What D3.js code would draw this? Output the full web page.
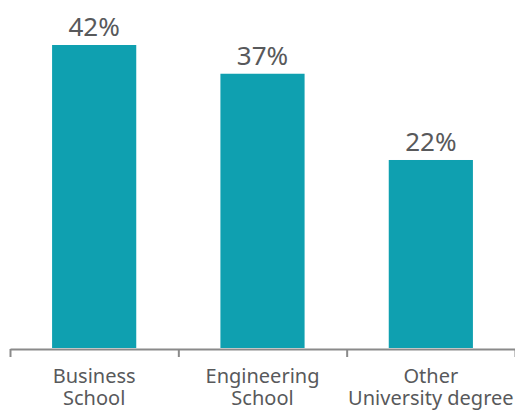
<!DOCTYPE html>
<html>
<head>
<meta charset="utf-8">
<script src="https://cdn.jsdelivr.net/npm/d3@7"></script>
<style>
  body { margin: 0; background: #fff; }
  text { font-family: "Noto Sans", sans-serif; fill: #58595b; }
</style>
</head>
<body>
<script>
// categories and values
var categories = [["Business", "School"], ["Engineering", "School"], ["Other", "University degree"]];
var values = [42, 37, 22];
var valueLabels = ["42%", "37%", "22%"];

var w = 515;
var h = 412;

var svg = d3.select("body").append("svg").attr("width", w).attr("height", h);

var x = d3.scaleBand()
  .domain(d3.range(values.length))
  .range([10, 515])
  .paddingInner(0.5)
  .paddingOuter(0.25);

// baseline sits below zero so bar heights follow the original drawing
var y = d3.scaleLinear().domain([-10.7, 42]).range([348, 45]);

svg.selectAll(".bar")
  .data(values)
  .enter()
  .append("rect")
  .attr("class", "bar")
  .attr("x", function (d, i) { return x(i); })
  .attr("y", function (d) { return y(d); })
  .attr("width", x.bandwidth())
  .attr("height", function (d) { return y(-10.7) - y(d); })
  .style("fill", "#0fa0b0");

svg.selectAll(".val")
  .data(values)
  .enter()
  .append("text")
  .attr("class", "val")
  .attr("x", function (d, i) { return x(i) + x.bandwidth() / 2; })
  .attr("y", function (d) { return y(d) - 9; })
  .attr("text-anchor", "middle")
  .style("font-size", "26px")
  .text(function (d, i) { return valueLabels[i]; });

// axis with ticks on band edges
var edges = d3.scaleLinear().domain([0, values.length]).range([10, 515]);
var axis = svg.append("g")
  .attr("transform", "translate(0,349)")
  .call(d3.axisBottom(edges).tickValues(d3.range(values.length + 1)).tickFormat("").tickSizeInner(8).tickSizeOuter(0));
axis.selectAll("path, line").style("stroke", "#8a8a8a").style("stroke-width", 2);

var lbl = svg.selectAll(".cat")
  .data(categories)
  .enter()
  .append("text")
  .attr("class", "cat")
  .attr("text-anchor", "middle")
  .style("font-size", "20px");

lbl.selectAll("tspan")
  .data(function (d, i) { return d.map(function (t) { return { t: t, i: i }; }); })
  .enter()
  .append("tspan")
  .attr("x", function (d) { return x(d.i) + x.bandwidth() / 2; })
  .attr("y", function (d, j) { return 383 + j * 22; })
  .text(function (d) { return d.t; });
</script>
</body>
</html>
